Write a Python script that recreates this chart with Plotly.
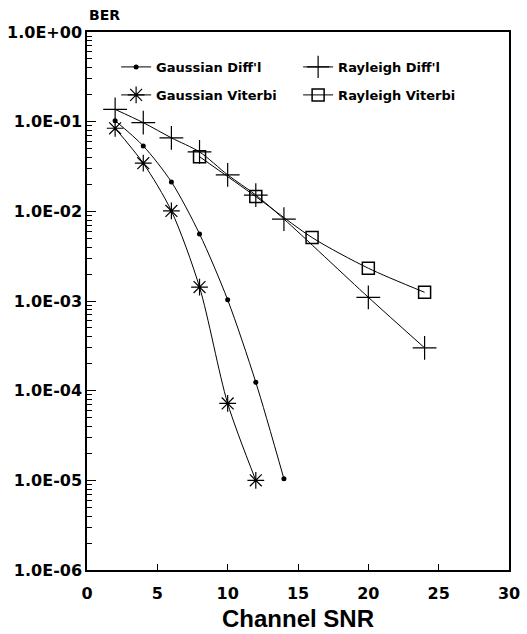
import plotly.graph_objects as go

# ---- data ----
gd_snr = [2, 4, 6, 8, 10, 12, 14]
gd_ber = [0.1026, 0.0536, 0.0213, 0.0056, 0.00103, 1.24e-4, 1.04e-5]

gv_snr = [2, 4, 6, 8, 10, 12]
gv_ber = [0.0844, 0.0344, 0.0101, 0.00143, 7.2e-5, 1.0e-5]

rd_snr = [2, 4, 6, 8, 10, 12, 14, 20, 24]
rd_ber = [0.137, 0.0975, 0.066, 0.046, 0.0255, 0.0152, 0.0082, 0.0011, 0.0003]

rv_snr = [8, 12, 16, 20, 24]
rv_ber = [0.0407, 0.0146, 0.0051, 0.00232, 0.00125]

y_tickvals = [1, 0.1, 0.01, 0.001, 1e-4, 1e-5, 1e-6]
y_ticktext = ["1.0E+00", "1.0E-01", "1.0E-02", "1.0E-03", "1.0E-04", "1.0E-05", "1.0E-06"]
x_tickvals = [0, 5, 10, 15, 20, 25, 30]

minor_vals = [m * 10.0 ** e for e in range(-6, 0) for m in range(2, 10)]

TICKFONT = dict(family="DejaVu Sans", size=16, color="black", weight="bold")
LEGFONT = dict(family="DejaVu Sans", size=13, color="black", weight="bold")

fig = go.Figure()

line = dict(color="black", width=1, shape="spline", smoothing=0.8)

fig.add_trace(go.Scatter(x=gd_snr, y=gd_ber, mode="lines+markers", name="Gaussian Diff'l",
                         line=line, marker=dict(symbol="circle", size=5, color="black"),
                         legend="legend"))
fig.add_trace(go.Scatter(x=rd_snr, y=rd_ber, mode="lines+markers", name="Rayleigh Diff'l",
                         line=line, marker=dict(symbol="cross-thin-open", size=17,
                                                line=dict(color="black", width=1.2)),
                         legend="legend"))
fig.add_trace(go.Scatter(x=gv_snr, y=gv_ber, mode="lines+markers", name="Gaussian Viterbi",
                         line=line, marker=dict(symbol="asterisk-open", size=14,
                                                line=dict(color="black", width=1.2)),
                         legend="legend2"))
fig.add_trace(go.Scatter(x=rv_snr, y=rv_ber, mode="lines+markers", name="Rayleigh Viterbi",
                         line=line, marker=dict(symbol="square-open", size=12, color="black",
                                                line=dict(color="black", width=1.5)),
                         legend="legend2"))

legcommon = dict(orientation="h", xanchor="left", yanchor="middle", x=0.069,
                 entrywidth=137, font=LEGFONT, bgcolor="rgba(0,0,0,0)", borderwidth=0)

fig.update_layout(
    width=527, height=634,
    margin=dict(l=87, r=18, t=32, b=64, autoexpand=False),
    paper_bgcolor="white", plot_bgcolor="white",
    legend=dict(y=0.935, **legcommon),
    legend2=dict(y=0.883, **legcommon),
    xaxis=dict(range=[0, 30], tickvals=x_tickvals, ticks="inside", ticklen=6,
               tickwidth=1, tickcolor="black", showgrid=False, zeroline=False,
               showline=True, linecolor="black", linewidth=1.5, mirror=True,
               tickfont=TICKFONT, automargin=False, ticklabelstandoff=8),
    yaxis=dict(type="log", range=[-6, 0], tickvals=y_tickvals, ticktext=y_ticktext,
               ticks="inside", ticklen=9, tickwidth=1, tickcolor="black",
               showgrid=False, zeroline=False, showline=True, linecolor="black",
               linewidth=1.5, mirror=True, tickfont=TICKFONT, automargin=False,
               minor=dict(tickvals=minor_vals, ticks="inside", ticklen=5,
                          tickcolor="black", tickwidth=1, showgrid=False)),
    annotations=[
        dict(text="BER", xref="paper", yref="paper", x=0.0, y=1.0307,
             xanchor="left", yanchor="middle", showarrow=False,
             font=dict(family="DejaVu Sans", size=14, color="black", weight="bold")),
        dict(text="Channel SNR", xref="paper", yref="paper", x=0.499, y=-0.091,
             xanchor="center", yanchor="middle", showarrow=False,
             font=dict(family="Liberation Sans", size=24, color="black", weight="bold")),
    ],
)

fig.write_html("out.html", config={"displayModeBar": False},
               post_script="document.body.style.margin='0';document.body.style.padding='0';")
